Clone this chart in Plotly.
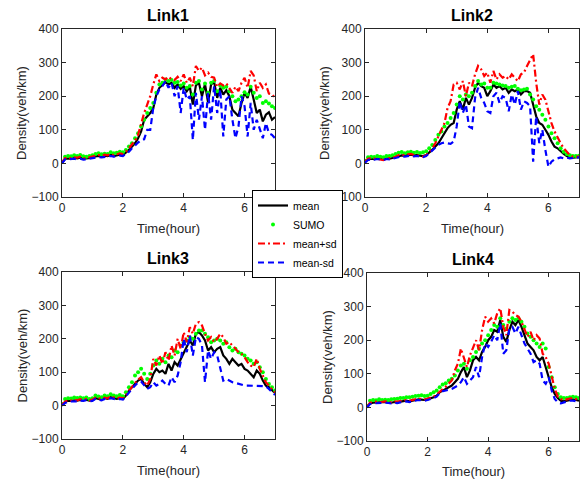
import plotly.graph_objects as go

# ---------------- data ----------------
time_hour = [round(0.1 * i, 1) for i in range(71)]

link1_mean = [0,14,15,14,16,15,17,14,15,16,17,21,22,20,23,22,25,22,24,26,25,
              32,40,50,60,75,95,130,140,150,165,205,225,235,242,235,240,225,235,222,230,215,228,175,232,240,200,236,182,235,242,195,225,205,218,200,160,150,140,180,210,195,228,190,150,160,125,145,152,130,138]
link1_sumo = [5,20,22,21,24,22,25,21,20,22,24,28,30,27,29,28,33,30,32,35,33,
              40,50,60,75,90,110,130,150,165,180,210,235,240,250,245,248,240,242,232,238,225,230,205,240,245,220,238,210,240,245,215,232,225,228,215,200,185,190,200,212,205,228,210,195,200,180,185,178,170,165]
link1_plus = [2,16,18,15,18,17,20,15,16,18,20,24,25,22,26,24,28,24,27,30,28,
              35,45,55,68,85,120,150,175,200,235,265,245,255,250,258,250,248,258,245,265,240,255,230,290,275,285,262,270,258,255,228,238,232,238,222,210,228,215,240,255,225,275,262,215,240,225,235,208,205,195]
link1_minus = [0,12,12,13,14,12,14,11,13,14,15,19,19,18,20,20,22,20,22,23,22,
               28,35,45,55,62,70,72,100,100,165,200,220,230,245,225,240,200,230,150,225,190,200,70,210,130,200,100,210,130,230,150,220,80,190,200,130,75,110,200,170,80,180,100,130,105,75,120,90,85,75]

link2_mean = [5,12,14,13,15,14,12,15,14,16,18,22,24,23,25,26,24,25,23,22,25,
              32,40,50,60,75,90,105,115,120,160,185,160,195,175,195,225,240,230,225,200,215,235,225,230,220,225,210,220,215,220,205,215,215,210,175,140,120,115,100,85,65,50,45,35,28,22,18,17,18,19]
link2_sumo = [8,18,20,19,22,20,18,22,22,24,28,32,34,30,33,35,32,34,31,33,36,
              45,55,70,85,95,110,120,135,150,175,200,190,205,200,210,230,245,235,238,225,225,240,238,235,232,230,225,228,230,222,218,220,222,205,190,170,160,145,130,110,90,75,60,45,35,28,24,22,22,23]
link2_plus = [5,14,16,15,14,12,10,14,15,17,20,25,26,24,27,28,25,24,22,20,24,
              35,45,60,80,100,120,165,185,235,240,220,245,200,240,230,265,290,280,260,270,240,275,250,265,255,260,250,265,255,245,265,270,290,310,325,240,175,205,190,155,120,95,75,60,45,35,25,20,20,20]
link2_minus = [2,10,12,11,13,12,10,13,12,14,16,19,21,20,22,23,21,22,20,19,22,
               30,38,45,55,60,62,60,58,65,110,185,150,175,110,105,195,225,195,180,155,150,200,210,180,200,195,155,205,175,215,160,185,180,170,5,140,60,100,40,-10,5,12,15,18,15,17,15,16,17,18]

link3_mean = [0,10,15,14,16,15,17,16,18,15,16,22,20,18,22,20,25,22,20,22,20,
              30,45,55,65,75,80,65,55,70,95,110,100,105,95,125,105,130,120,140,160,175,195,180,215,220,210,195,165,175,160,170,175,150,140,125,140,130,120,125,110,105,95,85,105,95,75,60,55,45,38]
link3_sumo = [5,20,22,21,24,23,24,22,24,20,22,30,27,25,30,28,34,30,28,32,28,
              40,55,70,90,100,110,95,80,95,120,135,125,140,130,150,145,165,160,180,190,195,205,200,215,225,225,215,205,190,195,200,195,185,190,175,165,170,160,155,150,140,135,125,130,115,100,80,65,55,45]
link3_plus = [2,12,16,15,18,16,19,17,20,16,18,24,22,20,24,22,27,24,22,24,22,
              32,45,58,68,78,85,70,60,80,140,120,150,125,160,135,180,150,200,170,220,190,235,215,245,250,240,215,195,205,190,200,215,205,185,190,180,170,160,155,145,130,120,115,140,110,90,70,60,48,40]
link3_minus = [0,8,12,12,14,13,15,14,16,13,14,20,18,16,20,18,22,20,18,20,18,
               28,40,50,60,70,72,60,50,55,70,60,65,75,65,60,85,70,90,130,200,160,210,150,205,200,180,70,165,140,160,150,110,75,80,75,70,68,65,62,60,60,60,60,60,60,60,58,50,40,32]

link4_mean = [0,12,14,15,14,15,16,15,14,16,15,17,18,20,18,20,22,24,23,22,24,
              26,30,35,45,50,55,60,65,75,85,105,120,90,110,140,150,140,165,180,200,210,230,225,260,210,195,230,255,245,260,240,215,190,180,170,150,140,150,120,90,60,40,28,20,18,20,22,24,22,20]
link4_sumo = [5,20,22,21,24,22,23,22,24,25,26,28,28,30,30,32,34,35,36,34,35,
              40,45,50,60,68,72,80,85,95,110,125,130,115,140,150,165,175,190,200,215,230,245,240,265,245,235,255,265,260,265,255,240,220,210,200,190,180,190,175,120,90,60,40,30,28,28,30,32,30,28]
link4_plus = [2,14,16,17,15,16,18,16,15,18,17,19,20,22,20,22,25,26,25,24,26,
              28,32,38,48,55,62,70,80,110,130,175,150,120,155,180,200,170,230,270,255,265,250,280,295,240,215,290,285,275,270,255,230,210,225,200,215,205,160,150,130,90,55,32,25,22,24,26,28,25,22]
link4_minus = [0,10,12,13,12,13,14,13,12,14,13,15,16,18,16,18,20,22,21,20,22,
               24,28,32,42,48,50,52,55,60,65,75,90,70,80,90,120,90,150,190,180,195,215,200,250,160,170,235,240,220,240,215,190,175,160,135,140,130,80,70,90,50,25,15,12,15,18,20,20,18,17]

link_names = ["Link1", "Link2", "Link3", "Link4"]
link_data = [
    (link1_mean, link1_sumo, link1_plus, link1_minus),
    (link2_mean, link2_sumo, link2_plus, link2_minus),
    (link3_mean, link3_sumo, link3_plus, link3_minus),
    (link4_mean, link4_sumo, link4_plus, link4_minus),
]
x_ticks = [0, 2, 4, 6]
y_ticks = [-100, 0, 100, 200, 300, 400]

# ---------------- layout geometry ----------------
W, H = 581, 480
FONT = "Liberation Sans, Arial, Helvetica, sans-serif"
AX = "#262626"
# plot areas in pixels (left, right, top, bottom)
boxes = [(62, 275, 29, 197), (365, 579, 29, 197), (62, 275, 272, 439), (367, 579, 273, 441)]
title_y = [15, 15, 258, 259]
ylab_x = [22, 325, 22, 327]
xlab_y = [228, 228, 470, 471]

fig = go.Figure()
annotations = []
for i, (name, (m, s, p, n)) in enumerate(zip(link_names, link_data)):
    k = "" if i == 0 else str(i + 1)
    xa, ya = "x" + k, "y" + k
    show = i == 0
    fig.add_trace(go.Scatter(x=time_hour, y=m, mode="lines", name="mean",
                             line=dict(color="black", width=2.2),
                             xaxis=xa, yaxis=ya, showlegend=show, legendgroup="mean"))
    fig.add_trace(go.Scatter(x=time_hour, y=s, mode="markers", name="SUMO",
                             marker=dict(color="#00ff00", size=4),
                             xaxis=xa, yaxis=ya, showlegend=show, legendgroup="sumo"))
    fig.add_trace(go.Scatter(x=time_hour, y=p, mode="lines", name="mean+sd",
                             line=dict(color="#ff0000", width=2.2, dash="7px,3px,2px,3px"),
                             xaxis=xa, yaxis=ya, showlegend=show, legendgroup="plus"))
    fig.add_trace(go.Scatter(x=time_hour, y=n, mode="lines", name="mean-sd",
                             line=dict(color="#0000ff", width=2.2, dash="6px,4px"),
                             xaxis=xa, yaxis=ya, showlegend=show, legendgroup="minus"))

    l, r, t, b = boxes[i]
    common = dict(showline=True, mirror="ticks", linecolor=AX, linewidth=1,
                  ticks="inside", ticklen=4, tickwidth=1, tickcolor=AX,
                  showgrid=False, zeroline=False, automargin=False,
                  tickfont=dict(family=FONT, size=12, color=AX))
    fig.layout["xaxis" + k] = dict(domain=[l / W, r / W], anchor=ya, range=[0, 7],
                                   tickvals=x_ticks, **common)
    fig.layout["yaxis" + k] = dict(domain=[1 - b / H, 1 - t / H], anchor=xa,
                                   range=[-100, 400], tickvals=y_ticks, **common)
    cx = (l + r) / 2 / W
    cy = 1 - (t + b) / 2 / H
    annotations.append(dict(text="<b>" + name + "</b>", x=cx, y=1 - title_y[i] / H,
                            xref="paper", yref="paper", showarrow=False,
                            xanchor="center", yanchor="middle",
                            font=dict(family=FONT, size=16, color="black")))
    annotations.append(dict(text="Density(veh/km)", x=ylab_x[i] / W, y=cy,
                            xref="paper", yref="paper", showarrow=False, textangle=-90,
                            xanchor="center", yanchor="middle",
                            font=dict(family=FONT, size=13, color=AX)))
    annotations.append(dict(text="Time(hour)", x=cx, y=1 - xlab_y[i] / H,
                            xref="paper", yref="paper", showarrow=False,
                            xanchor="center", yanchor="middle",
                            font=dict(family=FONT, size=13, color=AX)))

fig.update_layout(
    template="none",
    width=W, height=H,
    margin=dict(l=0, r=0, t=0, b=0, autoexpand=False),
    paper_bgcolor="white", plot_bgcolor="white",
    annotations=annotations,
    legend=dict(x=252 / W, y=1 - 234 / H, xanchor="left", yanchor="middle",
                bgcolor="white", bordercolor="black", borderwidth=1,
                font=dict(family=FONT, size=10.5, color="black"),
                tracegroupgap=0, itemwidth=30),
)

fig.write_html("out.html", config={"displayModeBar": False},
               post_script="document.body.style.margin='0';document.body.style.overflow='hidden';")
